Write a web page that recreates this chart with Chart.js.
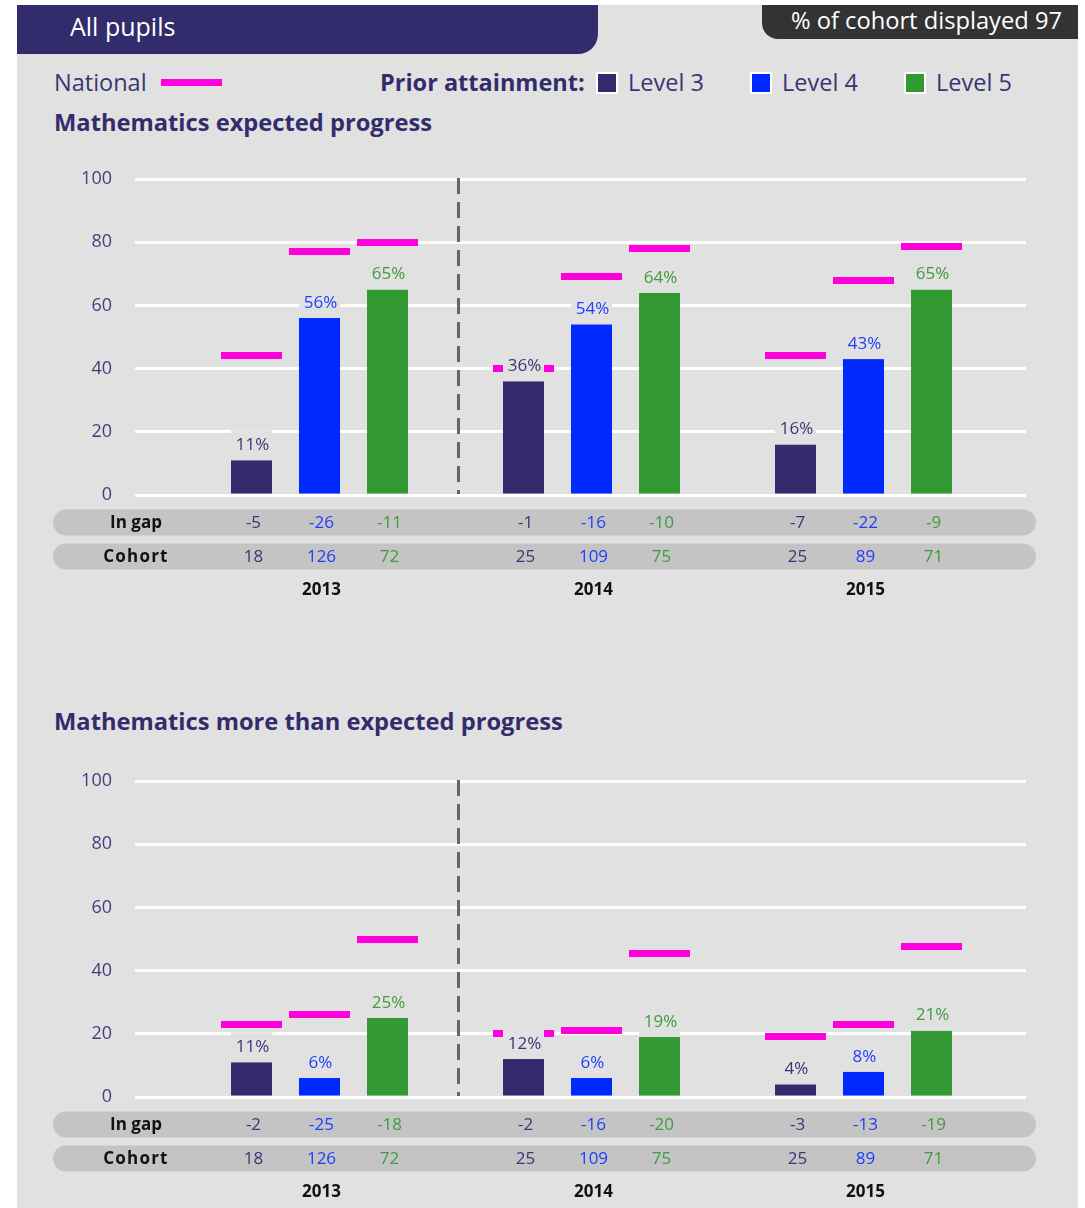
<!DOCTYPE html>
<html><head><meta charset="utf-8">
<script src="https://cdn.jsdelivr.net/npm/chart.js@4.4.1/dist/chart.umd.min.js"></script>
<style>
html,body{margin:0;padding:0;background:#fff;}
body{width:1085px;height:1208px;position:relative;overflow:hidden;font-family:"Open Sans",sans-serif;}
.abs{position:absolute;white-space:nowrap;line-height:1;}
#panel{position:absolute;left:17px;top:5px;width:1061px;height:1203px;background:#e1e1e1;}
#tab{position:absolute;left:17px;top:5px;width:581px;height:49px;background:#332c6c;border-bottom-right-radius:20px;}
#cbox{position:absolute;left:762px;top:5px;width:316px;height:34px;background:#333333;border-bottom-left-radius:16px;}
.sw{position:absolute;width:18px;height:18px;border:2px solid #fff;}
.leg{color:#3b3572;font-size:23.5px;}
.title{color:#332c6c;font-size:23.7px;font-weight:700;}
.cv{position:absolute;left:0;}
</style>
</head><body>
<div id="panel"></div>
<div id="tab"></div>
<div class="abs" style="left:70px;top:14px;color:#fff;font-size:25px;">All pupils</div>
<div id="cbox"></div>
<div class="abs" style="right:23px;top:8.5px;color:#fff;font-size:23.7px;">% of cohort displayed 97</div>

<div class="abs leg" style="left:54px;top:71px;">National</div>
<div class="abs" style="left:161px;top:79px;width:61px;height:7px;background:#ff00dd;"></div>
<div class="abs leg" style="left:380px;top:71px;font-weight:700;color:#332c6c;">Prior attainment:</div>
<div class="sw" style="left:596px;top:72px;background:#332b6c;"></div>
<div class="abs leg" style="left:628px;top:71px;">Level 3</div>
<div class="sw" style="left:750px;top:72px;background:#0029ff;"></div>
<div class="abs leg" style="left:782px;top:71px;">Level 4</div>
<div class="sw" style="left:904px;top:72px;background:#339933;"></div>
<div class="abs leg" style="left:936px;top:71px;">Level 5</div>

<div class="abs title" style="left:54px;top:111px;">Mathematics expected progress</div>
<div class="abs title" style="left:54px;top:710px;">Mathematics more than expected progress</div>

<canvas id="c1" class="cv" width="1085" height="470" style="top:140px;"></canvas>
<canvas id="c2" class="cv" width="1085" height="470" style="top:742px;"></canvas>

<script>
// ---------- data ----------
const years = [2013, 2014, 2015];
const levels = ['Level 3', 'Level 4', 'Level 5'];
const yTicks = [0, 20, 40, 60, 80, 100];

// Mathematics expected progress (% of pupils)
const ep_level3 = [11, 36, 16];
const ep_level4 = [56, 54, 43];
const ep_level5 = [65, 64, 65];
// National figures
const ep_nat_level3 = [44, 40, 44];
const ep_nat_level4 = [77, 69, 68];
const ep_nat_level5 = [80, 78, 78.5];
// In gap
const ep_gap_level3 = [-5, -1, -7];
const ep_gap_level4 = [-26, -16, -22];
const ep_gap_level5 = [-11, -10, -9];

// Mathematics more than expected progress (% of pupils)
const mep_level3 = [11, 12, 4];
const mep_level4 = [6, 6, 8];
const mep_level5 = [25, 19, 21];
const mep_nat_level3 = [23, 20, 19];
const mep_nat_level4 = [26, 21, 23];
const mep_nat_level5 = [50, 45.5, 47.5];
const mep_gap_level3 = [-2, -2, -3];
const mep_gap_level4 = [-25, -16, -13];
const mep_gap_level5 = [-18, -20, -19];

// Cohort sizes
const cohort_level3 = [18, 25, 25];
const cohort_level4 = [126, 109, 89];
const cohort_level5 = [72, 75, 71];

// ---------- styles ----------
const barColors = ['#332b6c', '#0029ff', '#339933'];
const textColors = ['#3b3575', '#1f3dff', '#3f9c3f'];
const nationalColor = '#ff00dd';
const bgColor = '#e1e1e1';
const FONT = '"Open Sans", sans-serif';
const X_MIN = 2012.3217, X_MAX = 2015.5974, DIVIDER_AT = 2013.51;

const panelPlugin = {
  id: 'panelPlugin',
  afterDatasetsDraw(chart, args, opts) {
    const ctx = chart.ctx, xs = chart.scales.x, ys = chart.scales.y, ca = chart.chartArea;
    // dashed divider between 2013 and 2014
    ctx.save();
    ctx.strokeStyle = '#666666';
    ctx.lineWidth = 3;
    ctx.setLineDash([16, 8]);
    const dx = Math.round(xs.getPixelForValue(DIVIDER_AT)) + 0.5;
    ctx.beginPath();
    ctx.moveTo(dx, ys.getPixelForValue(100) - 1);
    ctx.lineTo(dx, ys.getPixelForValue(0) - 1);
    ctx.stroke();
    ctx.restore();
    // national markers
    ctx.save();
    chart.data.datasets.forEach((ds, di) => {
      chart.getDatasetMeta(di).data.forEach((bar, i) => {
        const y = ys.getPixelForValue(opts.national[di][i]);
        ctx.fillStyle = nationalColor;
        ctx.fillRect(Math.round(bar.x - 30.5), Math.round(y - 3.5), 61, 7);
      });
    });
    // value labels with background box
    ctx.textAlign = 'center';
    ctx.textBaseline = 'middle';
    ctx.font = '17px ' + FONT;
    chart.data.datasets.forEach((ds, di) => {
      chart.getDatasetMeta(di).data.forEach((bar, i) => {
        const top = bar.y;
        ctx.fillStyle = bgColor;
        ctx.fillRect(bar.x - bar.width / 2, top - 30, bar.width, 30);
        ctx.fillStyle = textColors[di];
        ctx.fillText(ds.data[i].y + '%', bar.x + 1, top - 15);
      });
    });
    ctx.restore();
    // table rows
    ctx.save();
    const b = ca.bottom;
    const rows = [
      {label: 'In gap', vals: opts.gap, top: b + 14.5, spacing: '0px'},
      {label: 'Cohort', vals: opts.cohort, top: b + 48.5, spacing: '1.2px'}
    ];
    rows.forEach(r => {
      ctx.fillStyle = '#c4c4c4';
      ctx.beginPath();
      ctx.roundRect(53, r.top, 983, 26, 13);
      ctx.fill();
      const cy = r.top + 13.5;
      ctx.textAlign = 'center';
      ctx.textBaseline = 'middle';
      ctx.font = 'bold 17px ' + FONT;
      ctx.fillStyle = '#111111';
      ctx.letterSpacing = r.spacing;
      ctx.fillText(r.label, 136, cy);
      ctx.letterSpacing = '0px';
      ctx.font = '17px ' + FONT;
      chart.data.datasets.forEach((ds, di) => {
        chart.getDatasetMeta(di).data.forEach((bar, i) => {
          ctx.fillStyle = textColors[di];
          ctx.fillText(String(r.vals[di][i]), bar.x + 2, cy);
        });
      });
    });
    ctx.font = 'bold 17px ' + FONT;
    ctx.fillStyle = '#111111';
    years.forEach(yr => ctx.fillText(String(yr), xs.getPixelForValue(yr) + 2, b + 95));
    ctx.restore();
  }
};

function makeChart(id, vals, national, gap, cohort) {
  return new Chart(document.getElementById(id), {
    type: 'bar',
    data: {
      datasets: levels.map((lv, di) => ({
        label: lv,
        data: years.map((yr, i) => ({x: yr, y: vals[di][i]})),
        backgroundColor: barColors[di],
        borderWidth: 0,
        categoryPercentage: 0.75,
        barPercentage: 0.603
      }))
    },
    options: {
      responsive: false,
      devicePixelRatio: 1,
      animation: false,
      layout: {padding: {left: 0, right: 59, top: 39, bottom: 115}},
      plugins: {
        legend: {display: false},
        tooltip: {enabled: false},
        panelPlugin: {national, gap, cohort}
      },
      scales: {
        x: {
          type: 'linear',
          min: X_MIN, max: X_MAX,
          offset: false,
          bounds: 'data',
          grace: 0,
          display: false,
          afterBuildTicks: axis => {
            axis.ticks = years.map(v => ({value: v}));
            axis.min = X_MIN;
            axis.max = X_MAX;
          }
        },
        y: {
          min: 0, max: 100,
          afterBuildTicks: axis => { axis.ticks = yTicks.map(v => ({value: v})); },
          afterFit: s => { s.width = 135; },
          border: {display: false},
          grid: {color: '#ffffff', lineWidth: 3, drawTicks: false},
          ticks: {padding: 23, color: '#443e7c', font: {family: FONT, size: 18}}
        }
      }
    },
    plugins: [panelPlugin]
  });
}

makeChart('c1',
  [ep_level3, ep_level4, ep_level5],
  [ep_nat_level3, ep_nat_level4, ep_nat_level5],
  [ep_gap_level3, ep_gap_level4, ep_gap_level5],
  [cohort_level3, cohort_level4, cohort_level5]);
makeChart('c2',
  [mep_level3, mep_level4, mep_level5],
  [mep_nat_level3, mep_nat_level4, mep_nat_level5],
  [mep_gap_level3, mep_gap_level4, mep_gap_level5],
  [cohort_level3, cohort_level4, cohort_level5]);
</script>
</body></html>
